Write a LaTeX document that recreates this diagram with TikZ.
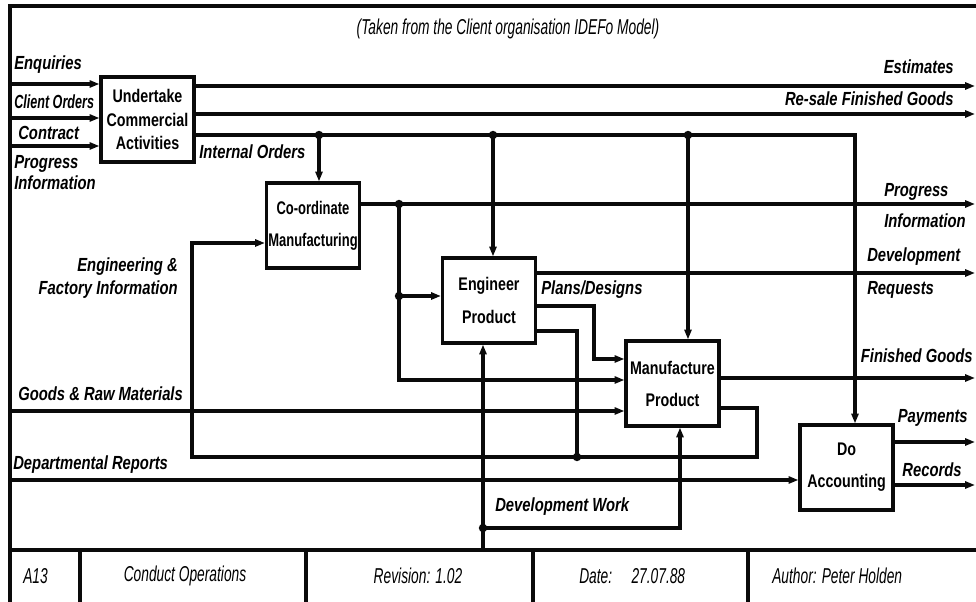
\documentclass[tikz,border=0pt]{standalone}
\usepackage{fontspec}
\usepackage{graphicx}
\newfontfamily\lblfont[FakeStretch=0.78]{Liberation Sans}
\newfontfamily\nrwfont[FakeStretch=0.71]{Liberation Sans}
\newfontfamily\thnfont[FakeStretch=0.64]{Liberation Sans}
\usetikzlibrary{arrows.meta,positioning,calc}
\definecolor{inkblack}{RGB}{10,10,10}
\tikzset{
  fn/.style={draw=inkblack,line width=2.2pt,minimum width=2.325cm,
             minimum height=2.125cm,align=center,inner sep=1pt,
             font=\lblfont\fontsize{13}{16.4}\selectfont\bfseries},
  fl/.style={-{Triangle[length=7pt,width=5pt]},line width=2.2pt,draw=inkblack},
  ln/.style={line width=2.2pt,draw=inkblack},
  jn/.style={circle,fill=inkblack,inner sep=0pt,minimum size=6pt},
  lbl/.style={inner sep=0pt,font=\lblfont\fontsize{13.5}{15}\selectfont\bfseries\itshape},
  thn/.style={inner sep=0pt,font=\thnfont\fontsize{15.3}{17}\selectfont\itshape},
}
\begin{document}
\begin{tikzpicture}[x=0.025cm,y=-0.025cm]
    \useasboundingbox (0,0) rectangle (976,602);
    % frame and footer
    \draw[ln] (976,6) -- (10,6) -- (10,602);
    \draw[ln] (10,550) -- (976,550);
    \foreach \x in {80,306,533,748}
      \draw[ln] (\x,550) -- (\x,602);
    \node[thn] (ttl) at (508,29) {(Taken from the Client organisation IDEFo Model)};
    \node[thn,anchor=west] (fA) at (23,576) {A13};
    \node[thn] (fT) at (185,576) {Conduct Operations};
    \node[thn] (fR) at (418,576) {Revision: 1.02};
    \node[thn,anchor=west] (fD) at (579,576) {Date:\hspace{0.9em}27.07.88};
    \node[thn,anchor=west] (fW) at (772,576) {Author: Peter Holden};
    % activities
    \node[fn] (uca) at (147.5,119.5) {Undertake\\Commercial\\Activities};
    \node[fn,font=\nrwfont\fontsize{13}{16.4}\selectfont\bfseries]
      (cmf) at (313,225.5) {Co-ordinate\\[6.4pt]Manufacturing};
    \node[fn] (eng) at (489,300.5) {Engineer\\[6.4pt]Product};
    \node[fn] (mfg) at (672.5,383.5) {Manufacture\\[6.4pt]Product};
    \node[fn] (acc) at (846.5,467.5) {Do\\[6.4pt]Accounting};
    % junctions
    \node[jn] (j1) at (319,135) {};
    \node[jn] (j2) at (493,135) {};
    \node[jn] (j3) at (688,135) {};
    \node[jn] (j4) at (399,204) {};
    \node[jn] (j5) at (399,296) {};
    \node[jn] (j6) at (577,457) {};
    \node[jn] (j7) at (483,528) {};
    % inputs to commercial activities
    \foreach \y in {84,118,146}
      \draw[fl] (10,\y) -- (uca.west |- 0,\y);
    \draw[fl] (uca.east |- 0,86) -- (975,86);
    \draw[fl] (uca.east |- 0,114) -- (975,114);
    % internal orders
    \coordinate (io) at (855,135);
    \draw[fl] (uca.east |- io) -- (io) -- (io |- acc.north);
    \draw[fl] (j1.center) -- (j1 |- cmf.north);
    \draw[fl] (j2.center) -- (j2 |- eng.north);
    \draw[fl] (j3.center) -- (j3 |- mfg.north);
    % co-ordination
    \draw[fl] (cmf.east |- j4) -- (975,204);
    \draw[fl] (j4.center) -- (399,380) -- (mfg.west |- 0,380);
    \draw[fl] (j5.center) -- (eng.west |- j5);
    % engineering
    \draw[fl] (eng.east |- 0,273) -- (975,273);
    \draw[fl] (eng.east |- 0,306) -| (594,359) -- (mfg.west |- 0,359);
    \draw[ln] (eng.east |- 0,331) -| (j6.center);
    % manufacturing
    \draw[fl] (mfg.east |- 0,378) -- (975,378);
    \draw[fl] (mfg.east |- 0,408) -| (757,457) -- (192,457) |- (cmf.west |- 0,243);
    \draw[fl] (10,411) -- (mfg.west |- 0,411);
    % accounting
    \draw[fl] (10,480) -- (acc.west |- 0,480);
    \draw[fl] (acc.east |- 0,442) -- (975,442);
    \draw[fl] (acc.east |- 0,485) -- (975,485);
    % development work
    \draw[fl] (483,550) -- (j7 |- eng.south);
    \draw[fl] (j7.center) -| ($(mfg.south)+(7.5,0)$);
    % arrow labels
    \node[lbl,anchor=west] (lEnq) at (14,65) {Enquiries};
    \node[lbl,anchor=west] (lCli) at (14,102) {\scalebox{0.85}[1]{Client Orders}};
    \node[lbl,anchor=west] (lCon) at (18,133) {Contract};
    \node[lbl,anchor=west,align=left] (lPrg) at (14,173) {Progress\\Information};
    \node[lbl,anchor=west] (lInt) at (199,152) {Internal Orders};
    \node[lbl,anchor=east,align=right] (lEng) at (178,278)
      {Engineering \&\\[1.2pt]Factory Information};
    \node[lbl,anchor=west] (lGds) at (18,394) {Goods \& Raw Materials};
    \node[lbl,anchor=west] (lDep) at (13,465) {Departmental Reports};
    \node[lbl,anchor=west] (lDev) at (495,507) {Development Work};
    \node[lbl,anchor=west] (lPln) at (541,290) {Plans/Designs};
    \node[lbl,anchor=east] (lEst) at (954,67) {Estimates};
    \node[lbl,anchor=east] (lRes) at (954,99) {Re-sale Finished Goods};
    \node[lbl,anchor=west,align=left] (lPrO) at (884,205.5) {Progress\\[7pt]Information};
    \node[lbl,anchor=west,align=left] (lDRq) at (867,273.5) {Development\\[8.5pt]Requests};
    \node[lbl,anchor=east] (lFin) at (973,356) {Finished Goods};
    \node[lbl,anchor=east] (lPay) at (968,418) {Payments};
    \node[lbl,anchor=east] (lRec) at (962,470) {Records};
\end{tikzpicture}
\end{document}
